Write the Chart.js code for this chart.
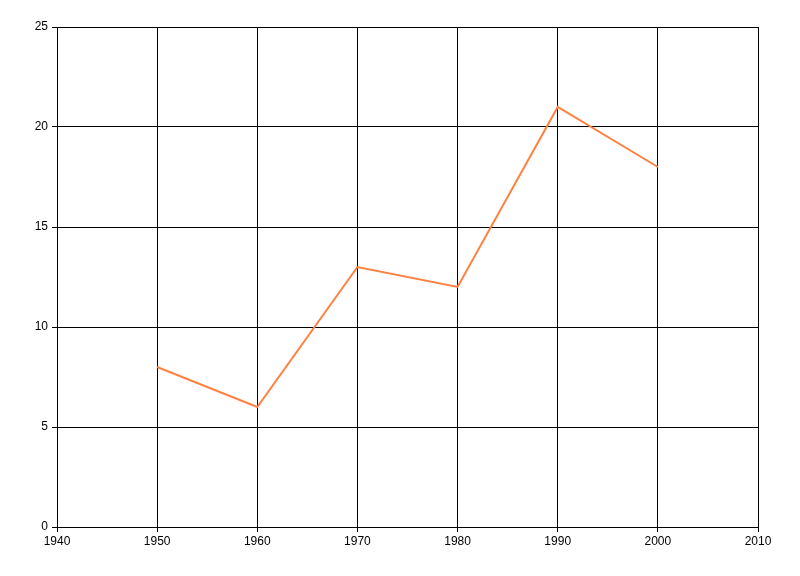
<!DOCTYPE html>
<html>
<head>
<meta charset="utf-8">
<script src="https://cdn.jsdelivr.net/npm/chart.js@4/dist/chart.umd.min.js"></script>
<style>
  html, body { margin: 0; padding: 0; background: #fff; }
  #wrap { width: 800px; height: 576px; position: relative; }
</style>
</head>
<body>
<div id="wrap"><canvas id="lineChart"></canvas></div>
<script>
// data
const years = [1950, 1960, 1970, 1980, 1990, 2000];
const values = [8, 6, 13, 12, 21, 18];
const xTicks = [1940, 1950, 1960, 1970, 1980, 1990, 2000, 2010];
const yTicks = [0, 5, 10, 15, 20, 25];

const points = years.map((yr, i) => ({ x: yr, y: values[i] }));
const labelFont = { family: "'Liberation Sans Narrow', 'Liberation Sans', sans-serif", size: 12 };

new Chart(document.getElementById('lineChart').getContext('2d'), {
    type: 'line',
    data: {
        datasets: [{
            data: points,
            borderColor: 'rgb(255,128,64)',
            borderWidth: 2,
            pointRadius: 0,
            tension: 0,
            fill: false
        }]
    },
    options: {
        responsive: true,
        maintainAspectRatio: false,
        animation: false,
        layout: { padding: { top: 27, right: 42, left: 0, bottom: 0 } },
        plugins: {
            legend: { display: false },
            tooltip: { enabled: false }
        },
        scales: {
            x: {
                type: 'linear',
                min: xTicks[0],
                max: xTicks[xTicks.length - 1],
                afterBuildTicks: axis => { axis.ticks = xTicks.map(v => ({ value: v })); },
                afterFit: axis => { axis.height = 49; },
                grid: { color: '#000', lineWidth: 1, tickLength: 5, drawTicks: true },
                border: { color: '#000', width: 1 },
                ticks: {
                    color: '#000',
                    font: labelFont,
                    padding: 2,
                    maxRotation: 0,
                    callback: v => String(v)
                }
            },
            y: {
                min: yTicks[0],
                max: yTicks[yTicks.length - 1],
                afterBuildTicks: axis => { axis.ticks = yTicks.map(v => ({ value: v })); },
                afterFit: axis => { axis.width = 57; },
                grid: { color: '#000', lineWidth: 1, tickLength: 5, drawTicks: true },
                border: { color: '#000', width: 1 },
                ticks: {
                    color: '#000',
                    font: labelFont,
                    padding: 4
                }
            }
        }
    }
});
</script>
</body>
</html>
